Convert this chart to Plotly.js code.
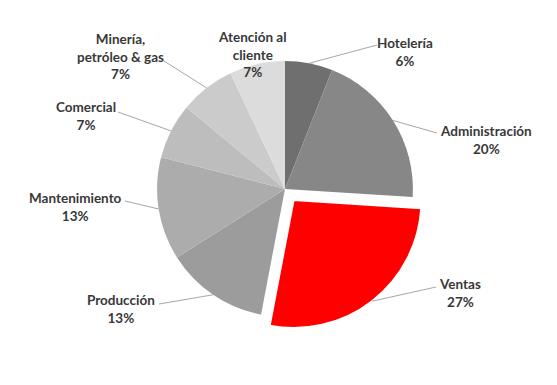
<!DOCTYPE html>
<html>
<head>
<meta charset="utf-8">
<script src="https://cdn.plot.ly/plotly-3.0.1.min.js"></script>
<style>html,body{margin:0;padding:0;background:#fff;}#chart{width:557px;height:385px;}</style>
</head>
<body>
<div id="chart"></div>
<script>
// ---- data ----
const categories = ["Hotelería", "Administración", "Ventas", "Producción", "Mantenimiento", "Comercial", "Minería, petróleo & gas", "Atención al cliente"];
const labelText = ["Hotelería", "Administración", "Ventas", "Producción", "Mantenimiento", "Comercial", "Minería,<br>petróleo & gas", "Atención al<br>cliente"];
const shares = [6, 20, 27, 13, 13, 7, 7, 7];
const pulls = [0, 0, 0.11, 0, 0, 0, 0, 0];

// ---- styles / layout ----
const colors = ["#6f6f6f", "#878787", "#ff0000", "#9c9c9c", "#acacac", "#bdbdbd", "#cbcbcb", "#dcdcdc"];
const lineWidths = [0, 0, 2, 0, 0, 0, 0, 0];
const W = 557, H = 385;
const domX = [0.2567, 0.7666], domY = [0.1403, 0.8779];
// label centre (px) and leader-line text end (px, null = no line)
const labelPos = [[405, 52], [486, 140], [460, 293], [121, 309], [75, 207], [86, 116], [120, 56], [252, 55]];
const lineEnd = [[377, 45], [437, 133], [436, 287], [159, 304], [125, 201], [118, 112], [164, 61], null];

const total = shares.reduce((a, b) => a + b, 0);
const maxPull = Math.max(...pulls);
const r = Math.min(W * (domX[1] - domX[0]), H * (domY[1] - domY[0])) / (2 + 2 * maxPull);
const cx = W * (domX[0] + domX[1]) / 2;
const cy = H * (1 - (domY[0] + domY[1]) / 2);

const annotations = [];
const shapes = [];
let cum = 0;
shares.forEach((v, i) => {
  const pct = Math.round(100 * v / total) + "%";
  annotations.push({
    xref: "paper", yref: "paper",
    x: labelPos[i][0] / W, y: 1 - labelPos[i][1] / H,
    xanchor: "center", yanchor: "middle",
    text: "<b>" + labelText[i] + "<br>" + pct + "</b>",
    showarrow: false, align: "center",
    font: {family: "Lato, 'Open Sans', sans-serif", size: 13.5, color: "#383838"}
  });
  const a = 2 * Math.PI * (cum + v / 2) / total;
  cum += v;
  if (lineEnd[i]) {
    const d = r * (1 + pulls[i]);
    const px = cx + d * Math.sin(a), py = cy - d * Math.cos(a);
    shapes.push({
      type: "line", xref: "paper", yref: "paper",
      x0: px / W, y0: 1 - py / H,
      x1: lineEnd[i][0] / W, y1: 1 - lineEnd[i][1] / H,
      line: {color: "#a6a6a6", width: 1}
    });
  }
});

const trace = {
  type: "pie",
  labels: categories,
  values: shares,
  pull: pulls,
  sort: false,
  direction: "clockwise",
  rotation: 0,
  textinfo: "none",
  hoverinfo: "label+percent",
  domain: {x: domX, y: domY},
  marker: {colors: colors, line: {color: "#ffffff", width: lineWidths}}
};

Plotly.newPlot("chart", [trace], {
  width: W, height: H,
  margin: {l: 0, r: 0, t: 0, b: 0},
  showlegend: false,
  paper_bgcolor: "#ffffff",
  annotations: annotations,
  shapes: shapes
}, {displayModeBar: false, staticPlot: true});
</script>
</body>
</html>
